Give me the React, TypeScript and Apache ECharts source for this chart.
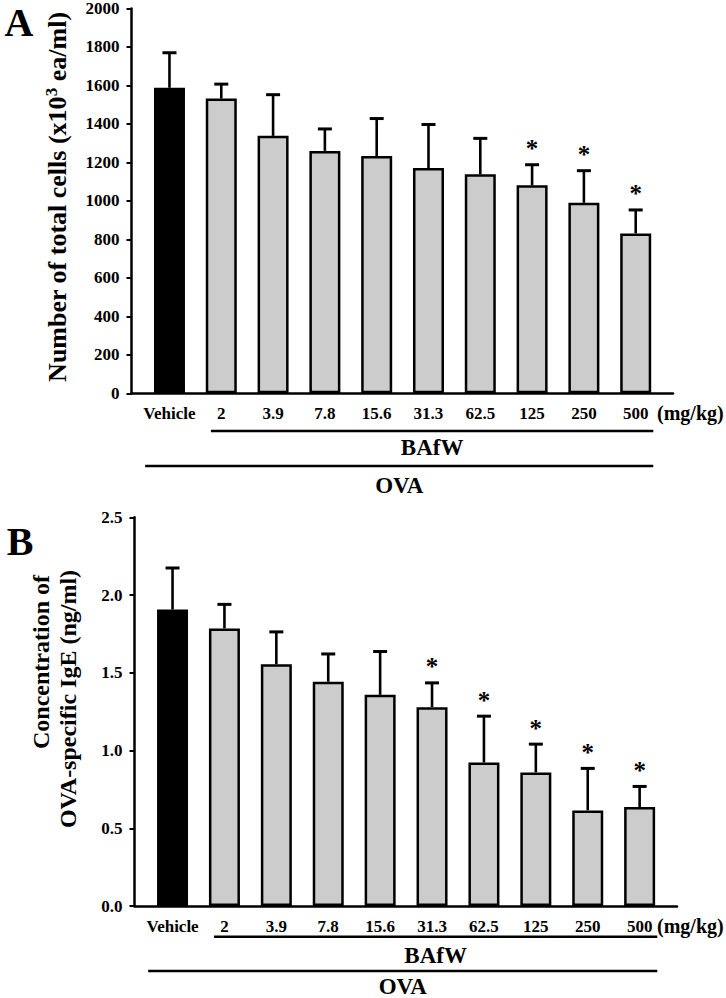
import React, { useEffect, useRef } from "react";
import * as echarts from "echarts";

// ---------- data ----------
const categories = ["Vehicle", "2", "3.9", "7.8", "15.6", "31.3", "62.5", "125", "250", "500"];

// Panel A: number of total cells (x10^3 ea/ml)
const cellsMean = [1588, 1532, 1338, 1260, 1233, 1171, 1138, 1081, 990, 831];
const cellsSD = [182, 75, 214, 114, 195, 226, 187, 107, 167, 122];
const cellsSig = [0, 0, 0, 0, 0, 0, 0, 1, 1, 1];
const cellsTicks = { min: 0, max: 2000, interval: 200 };

// Panel B: OVA-specific IgE (ng/ml)
const igeMean = [1.907, 1.785, 1.555, 1.442, 1.358, 1.279, 0.923, 0.859, 0.615, 0.636];
const igeSD = [0.267, 0.155, 0.208, 0.179, 0.279, 0.156, 0.298, 0.182, 0.27, 0.133];
const igeSig = [0, 0, 0, 0, 0, 1, 1, 1, 1, 1];
const igeTicks = { min: 0, max: 2.5, interval: 0.5 };

// group brackets under the x axis: [first category, last category, level]
const groupLabels = ["BAfW", "OVA"];
const groups = [
  [1, 9, 0],
  [0, 9, 1],
];
const unitLabel = "(mg/kg)";

// ---------- styles ----------
const FONT = "'Liberation Serif', 'Times New Roman', Times, serif";
const BLACK = "#000000";
const GRAY = "#cccccc";
const X_MIN = -0.733;
const X_MAX = 9.72;

function barData(means: number[]) {
  return means.map((v, i) => ({
    value: [i, v],
    itemStyle: { color: i === 0 ? BLACK : GRAY },
  }));
}

function errData(means: number[], sds: number[], sig: number[]) {
  return means.map((v, i) => [i, v, sds[i], sig[i]]);
}

function errRender(params: any, api: any) {
  const i = api.value(0);
  const m = api.value(1);
  const sd = api.value(2);
  const sig = api.value(3);
  const base = api.coord([i, m]);
  const top = api.coord([i, m + sd]);
  const children: any[] = [
    {
      type: "line",
      shape: { x1: base[0], y1: base[1], x2: top[0], y2: top[1] },
      style: { stroke: BLACK, lineWidth: 2.6 },
    },
    {
      type: "line",
      shape: { x1: top[0] - 7, y1: top[1], x2: top[0] + 7, y2: top[1] },
      style: { stroke: BLACK, lineWidth: 3 },
    },
  ];
  if (sig) {
    children.push({
      type: "text",
      style: {
        text: "*",
        x: top[0],
        y: top[1] - 16,
        align: "center",
        verticalAlign: "middle",
        fontSize: 25,
        fontWeight: "bold",
        fontFamily: FONT,
        fill: BLACK,
      },
    });
  }
  return { type: "group", children };
}

function bracketRender(offsets: { line: number[]; text: number[] }) {
  const padL = [0.2, 0.47];
  const padR = 0.34;
  return (params: any, api: any) => {
    const from = api.value(0);
    const to = api.value(1);
    const level = api.value(2);
    const y0 = api.coord([0, 0])[1];
    const x1 = api.coord([from - padL[level], 0])[0];
    const x2 = api.coord([to + padR, 0])[0];
    const ly = y0 + offsets.line[level];
    return {
      type: "group",
      children: [
        {
          type: "line",
          shape: { x1, y1: ly, x2, y2: ly },
          style: { stroke: BLACK, lineWidth: 2.5 },
        },
        {
          type: "text",
          style: {
            text: groupLabels[level],
            x: (x1 + x2) / 2,
            y: y0 + offsets.text[level],
            align: "center",
            verticalAlign: "middle",
            fontSize: 23,
            fontWeight: "bold",
            fontFamily: FONT,
            fill: BLACK,
          },
        },
      ],
    };
  };
}

function xAxisFor(gridIndex: number, nameGap: number) {
  return {
    gridIndex,
    type: "value",
    min: X_MIN,
    max: X_MAX,
    axisLine: { show: true, onZero: false, lineStyle: { color: BLACK, width: 2.5 } },
    axisTick: { show: false },
    splitLine: { show: false },
    axisLabel: {
      customValues: categories.map((_, i) => i),
      formatter: (v: number) => categories[Math.round(v)] ?? "",
      fontSize: 17,
      fontWeight: "bold",
      fontFamily: FONT,
      color: BLACK,
      margin: 12,
    },
    name: unitLabel,
    nameLocation: "end",
    nameGap,
    nameTextStyle: {
      fontSize: 20,
      fontWeight: "bold",
      fontFamily: FONT,
      color: BLACK,
      verticalAlign: "top",
      padding: [10, 0, 0, 0],
    },
  };
}

function yAxisFor(gridIndex: number, t: { min: number; max: number; interval: number }, fmt: (v: number) => string) {
  return {
    gridIndex,
    type: "value",
    min: t.min,
    max: t.max,
    interval: t.interval,
    axisLine: { show: true, onZero: false, lineStyle: { color: BLACK, width: 2.5 } },
    axisTick: { show: true, length: 5, lineStyle: { color: BLACK, width: 2 } },
    splitLine: { show: false },
    axisLabel: {
      formatter: fmt,
      fontSize: 17,
      fontWeight: "bold",
      fontFamily: FONT,
      color: BLACK,
      margin: 12,
    },
  };
}

export default function App() {
  const ref = useRef<HTMLDivElement>(null);
  useEffect(() => {
    document.body.style.margin = "0";
    if (!ref.current) return;
    const chart = echarts.init(ref.current, null, { renderer: "svg" });
    const barStyle = { borderColor: BLACK, borderWidth: 2.5 };
    chart.setOption({
      animation: false,
      backgroundColor: "#ffffff",
      grid: [
        { left: 131.5, top: 7, width: 541.5, height: 386.3 },
        { left: 134.5, top: 517.3, width: 542.5, height: 388.7 },
      ],
      xAxis: [xAxisFor(0, -16), xAxisFor(1, -20)],
      yAxis: [
        yAxisFor(0, cellsTicks, (v: number) => String(v)),
        yAxisFor(1, igeTicks, (v: number) => v.toFixed(1)),
      ],
      graphic: [
        {
          type: "text",
          x: 19,
          y: 22,
          style: { text: "A", align: "center", verticalAlign: "middle", fontSize: 40, fontWeight: "bold", fontFamily: FONT, fill: BLACK },
        },
        {
          type: "text",
          x: 20,
          y: 541,
          style: { text: "B", align: "center", verticalAlign: "middle", fontSize: 40, fontWeight: "bold", fontFamily: FONT, fill: BLACK },
        },
        {
          type: "text",
          x: 57,
          y: 197,
          rotation: Math.PI / 2,
          style: {
            text: "{a|Number of total cells (x10}{s|3}{a| ea/ml)}",
            align: "center",
            verticalAlign: "middle",
            fill: BLACK,
            rich: {
              a: { fontSize: 26, fontWeight: "bold", fontFamily: FONT, fill: BLACK, lineHeight: 28 },
              s: { fontSize: 17, fontWeight: "bold", fontFamily: FONT, fill: BLACK, verticalAlign: "top", lineHeight: 17 },
            },
          },
        },
        {
          type: "text",
          x: 41,
          y: 662,
          rotation: Math.PI / 2,
          style: { text: "Concentration of", align: "center", verticalAlign: "middle", fontSize: 24, fontWeight: "bold", fontFamily: FONT, fill: BLACK },
        },
        {
          type: "text",
          x: 68,
          y: 699,
          rotation: Math.PI / 2,
          style: { text: "OVA-specific IgE (ng/ml)", align: "center", verticalAlign: "middle", fontSize: 24, fontWeight: "bold", fontFamily: FONT, fill: BLACK },
        },
      ],
      series: [
        {
          type: "bar",
          xAxisIndex: 0,
          yAxisIndex: 0,
          barWidth: 31,
          itemStyle: barStyle,
          data: barData(cellsMean),
        },
        {
          type: "custom",
          xAxisIndex: 0,
          yAxisIndex: 0,
          z: 5,
          renderItem: errRender,
          data: errData(cellsMean, cellsSD, cellsSig),
        },
        {
          type: "custom",
          xAxisIndex: 0,
          yAxisIndex: 0,
          renderItem: bracketRender({ line: [37.7, 72.7], text: [54.4, 91.7] }),
          data: groups,
        },
        {
          type: "bar",
          xAxisIndex: 1,
          yAxisIndex: 1,
          barWidth: 31,
          itemStyle: barStyle,
          data: barData(igeMean),
        },
        {
          type: "custom",
          xAxisIndex: 1,
          yAxisIndex: 1,
          z: 5,
          renderItem: errRender,
          data: errData(igeMean, igeSD, igeSig),
        },
        {
          type: "custom",
          xAxisIndex: 1,
          yAxisIndex: 1,
          renderItem: bracketRender({ line: [30.7, 65], text: [49, 80] }),
          data: groups,
        },
      ],
    });
    return () => chart.dispose();
  }, []);
  return <div ref={ref} style={{ width: 726, height: 998 }} />;
}
